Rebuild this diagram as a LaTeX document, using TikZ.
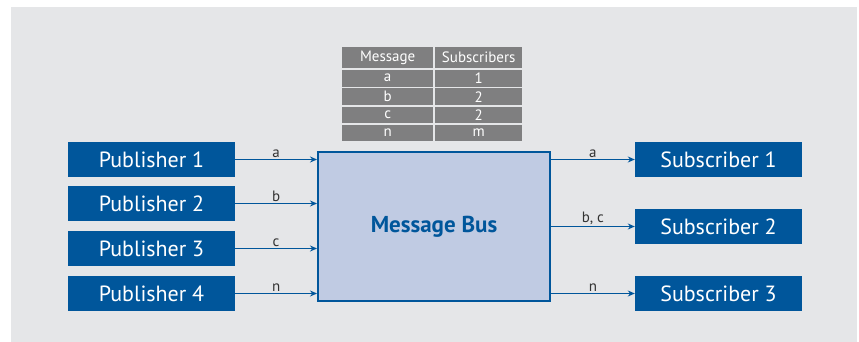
\documentclass[tikz,border=0pt]{standalone}
\usepackage{fontspec}
\setmainfont{PT Sans}
\usetikzlibrary{arrows.meta}
\definecolor{bgray}{HTML}{E5E6E8}
\definecolor{dblue}{HTML}{00569B}
\definecolor{busfill}{HTML}{C0CBE3}
\definecolor{cellgray}{HTML}{7F7F80}
\definecolor{lbl}{HTML}{333333}
\tikzset{
  box/.style={fill=dblue, text=white, minimum width=167pt, minimum height=35pt,
    inner sep=0pt, font=\fontsize{22}{24}\selectfont},
  cell/.style={fill=cellgray, text=white, inner sep=0pt, anchor=north west,
    font=\fontsize{15}{16}\selectfont},
  flow/.style={draw=dblue, line width=1.2pt, -{Stealth[length=7pt,width=6pt]}},
  flowlbl/.style={above, text=lbl, inner sep=1pt, font=\fontsize{15}{16}\selectfont}
}
\begin{document}
\begin{tikzpicture}[x=1pt,y=-1pt]
  \useasboundingbox (0,0) rectangle (859,342);
  \fill[white] (0,0) rectangle (859,342);
  \fill[bgray] (11,7) rectangle (857,342);

  % lookup table above the bus
  \node[cell, minimum width=91pt, minimum height=21pt] (h1) at (342,47) {Message};
  \node[cell, minimum width=87pt, minimum height=21pt] (h2) at (435,47) {Subscribers};
  \node[cell, minimum width=91pt, minimum height=17pt] (a1) at (342,69.5) {a};
  \node[cell, minimum width=87pt, minimum height=17pt] (a2) at (435,69.5) {1};
  \node[cell, minimum width=91pt, minimum height=17pt] (b1) at (342,88) {b};
  \node[cell, minimum width=87pt, minimum height=17pt] (b2) at (435,88) {2};
  \node[cell, minimum width=91pt, minimum height=16.5pt] (c1) at (342,106.5) {c};
  \node[cell, minimum width=87pt, minimum height=16.5pt] (c2) at (435,106.5) {2};
  \node[cell, minimum width=91pt, minimum height=16.5pt] (n1) at (342,124.5) {n};
  \node[cell, minimum width=87pt, minimum height=16.5pt] (n2) at (435,124.5) {m};

  % message bus
  \node[draw=dblue, fill=busfill, line width=2pt, minimum width=232pt, minimum height=149pt,
    inner sep=0pt, text=dblue, font=\fontsize{23}{25}\selectfont\bfseries]
    (bus) at (434,226.5) {Message Bus};

  % publishers
  \node[box] (p1) at (151.5,159.5) {Publisher 1};
  \node[box] (p2) at (151.5,203.5) {Publisher 2};
  \node[box] (p3) at (151.5,248.5) {Publisher 3};
  \node[box] (p4) at (151.5,293.5) {Publisher 4};

  % subscribers
  \node[box] (s1) at (718.5,159.5) {Subscriber 1};
  \node[box] (s2) at (718.5,226.5) {Subscriber 2};
  \node[box] (s3) at (718.5,293.5) {Subscriber 3};

  % publisher -> bus
  \draw[flow] (p1.east) -- node[flowlbl] {a} (p1.east -| bus.west);
  \draw[flow] (p2.east) -- node[flowlbl] {b} (p2.east -| bus.west);
  \draw[flow] (p3.east) -- node[flowlbl] {c} (p3.east -| bus.west);
  \draw[flow] (p4.east) -- node[flowlbl] {n} (p4.east -| bus.west);

  % bus -> subscribers
  \draw[flow] (s1.west -| bus.east) -- node[flowlbl] {a} (s1.west);
  \draw[flow] (s2.west -| bus.east) -- node[flowlbl] {b, c} (s2.west);
  \draw[flow] (s3.west -| bus.east) -- node[flowlbl] {n} (s3.west);
\end{tikzpicture}
\end{document}
